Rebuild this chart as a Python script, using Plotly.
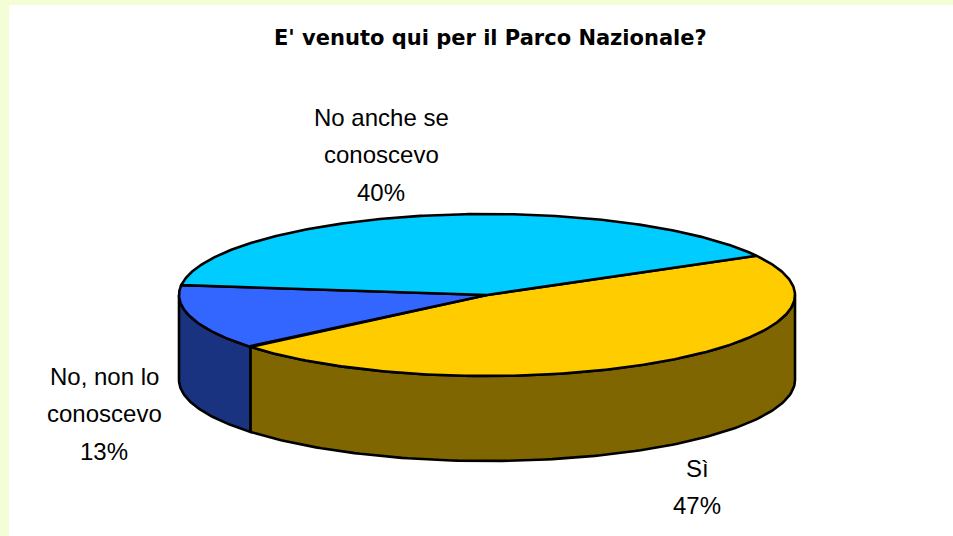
import numpy as np
import plotly.graph_objects as go

# ---- data ----
categories = ["Sì", "No, non lo conoscevo", "No anche se conoscevo"]
label_names = [["Sì"], ["No, non lo", "conoscevo"], ["No anche se", "conoscevo"]]
values = [47, 13, 40]
title_text = "E' venuto qui per il Parco Nazionale?"

# ---- style ----
top_colors = ["#FFCC00", "#3366FF", "#00CCFF"]
side_colors = ["#806600", "#1A3380", "#0099CC"]
label_anchor = [(697, 468), (104, 376), (381, 117)]  # first line centre
LINE_STEP = 37.5
CX, CY, A, B, DEPTH = 487, 295, 308, 81, 85
START = 29.0  # degrees, counter-clockwise from 3 o'clock; slices go clockwise
FONT = "Arial, Liberation Sans, sans-serif"
TITLE_FONT = "DejaVu Sans, Arial, sans-serif"


def ell(theta_deg, dy=0.0):
    t = np.radians(theta_deg)
    return CX + A * np.cos(t), CY - B * np.sin(t) + dy


total = float(sum(values))
spans = []
cur = START
for v in values:
    sp = v / total * 360.0
    spans.append((cur, cur - sp))
    cur -= sp

fig = go.Figure()

# side faces (front half of the rim)
for (a0, a1), col in zip(spans, side_colors):
    for k in range(-2, 2):
        lo = max(a1, -180 + 360 * k)
        hi = min(a0, 360 * k)
        if hi > lo:
            th = np.linspace(lo, hi, 120)
            xt, yt = ell(th)
            xb, yb = ell(th[::-1], DEPTH)
            xs = np.concatenate([xt, xb, xt[:1]])
            ys = np.concatenate([yt, yb, yt[:1]])
            fig.add_trace(go.Scatter(x=xs, y=ys, mode="lines", fill="toself",
                                     fillcolor=col,
                                     line=dict(color="black", width=2.6),
                                     hoverinfo="skip", showlegend=False))

# top faces
for (a0, a1), col, name, v in zip(spans, top_colors, categories, values):
    th = np.linspace(a0, a1, 240)
    xa, ya = ell(th)
    xs = np.concatenate([[CX], xa, [CX]])
    ys = np.concatenate([[CY], ya, [CY]])
    fig.add_trace(go.Scatter(x=xs, y=ys, mode="lines", fill="toself",
                             fillcolor=col,
                             line=dict(color="black", width=2.6),
                             name=name, hoverinfo="skip", showlegend=False))

annotations = [dict(x=490, y=38, xref="x", yref="y",
                    text="<b>" + title_text + "</b>", showarrow=False,
                    font=dict(family=TITLE_FONT, size=21, color="black"))]
for lines, v, (lx, ly) in zip(label_names, values, label_anchor):
    for i, ln in enumerate(lines + [f"{v}%"]):
        annotations.append(dict(x=lx, y=ly + i * LINE_STEP, xref="x", yref="y",
                                text=ln, showarrow=False,
                                font=dict(family=FONT, size=24, color="black")))

fig.update_layout(
    width=953, height=536,
    margin=dict(l=9, r=0, t=5, b=0, pad=0),
    paper_bgcolor="#F3FDD6",
    plot_bgcolor="white",
    xaxis=dict(range=[9, 953], visible=False, fixedrange=True),
    yaxis=dict(range=[536, 5], visible=False, fixedrange=True),
    annotations=annotations,
    showlegend=False,
)

fig.write_html("out.html",
               config={"displayModeBar": False},
               post_script="document.body.style.margin='0px';"
                           "document.body.style.overflow='hidden';")
